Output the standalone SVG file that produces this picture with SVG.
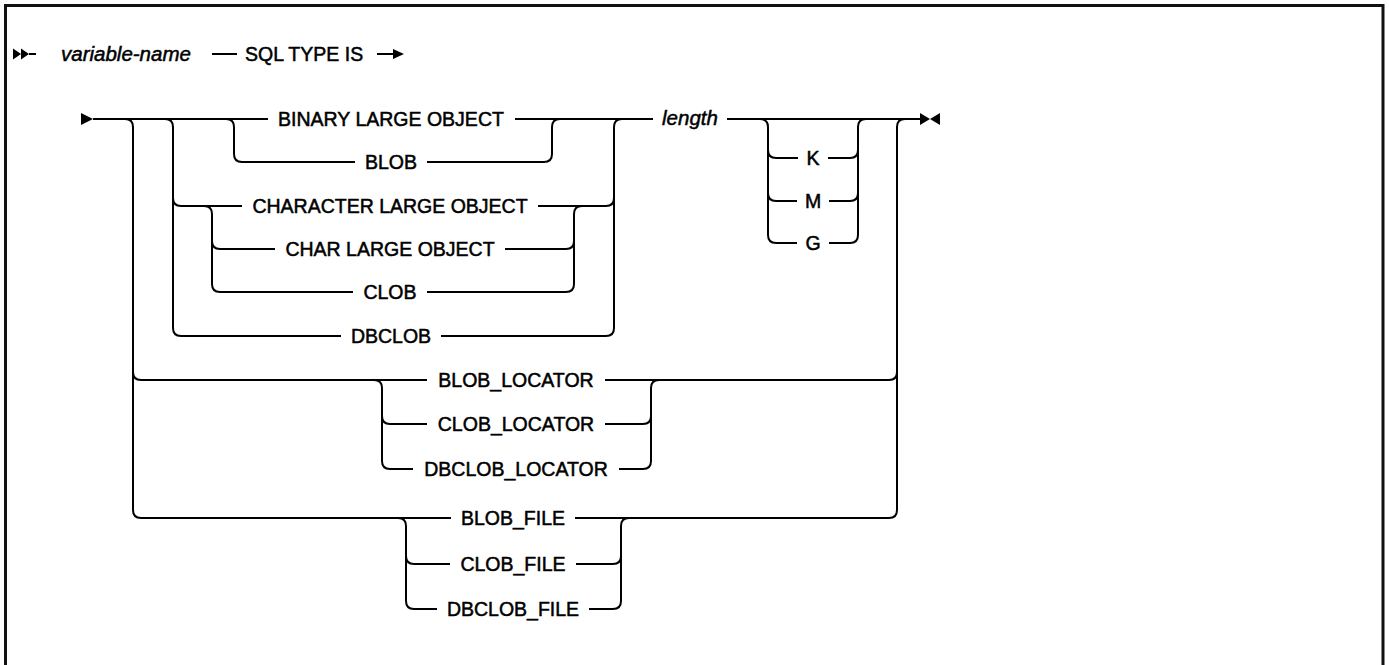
<svg xmlns="http://www.w3.org/2000/svg" width="1389" height="665" viewBox="0 0 1389 665">
<style>
.c{fill:none;stroke:#000;stroke-width:2}
.a{fill:#000;stroke:none}
.t{font-family:"Liberation Sans",Arial,sans-serif;font-size:19.5px;fill:#000;stroke:#000;stroke-width:0.5;text-anchor:middle}
.s{text-anchor:start}
.i{font-style:italic;font-size:20.5px}
</style>
<rect x="5.5" y="5.5" width="1377.5" height="700" fill="#fff" stroke="#111" stroke-width="3"/>
<g id="connectors">
<path class="a" d="M13,48.5 L21,54 L13,59.5 Z M21,48.5 L29,54 L21,59.5 Z"/>
<path class="c" d="M29,54 H36 M212,54 H237 M377,54 H396"/>
<path class="a" d="M393,49 L404,54 L393,59 Z"/>
<path class="a" d="M81,113 L93,119 L81,125 Z"/>
<path class="c" d="M93,119 H268 M515,119 H653 M727,119 H920"/>
<path class="a" d="M920,113 L930,119 L920,125 Z M940,113 L930,119 L940,125 Z"/>
<path class="c" d="M125,119 Q133,119 133,127 V510 Q133,518 141,518 M133,372 Q133,380 141,380"/>
<path class="c" d="M165,119 Q173,119 173,127 V328 Q173,336 181,336 M173,198 Q173,206 181,206"/>
<path class="c" d="M226,119 Q234,119 234,127 V154 Q234,162 242,162"/>
<path class="c" d="M544,162 Q552,162 552,154 V127 Q552,119 560,119"/>
<path class="c" d="M242,162 H355 M427,162 H544"/>
<path class="c" d="M204,206 Q212,206 212,214 V284 Q212,292 220,292 M212,241 Q212,249 220,249"/>
<path class="c" d="M566,292 Q574,292 574,284 V214 Q574,206 582,206 M566,249 Q574,249 574,241"/>
<path class="c" d="M181,206 H242 M538,206 H606 M220,249 H275 M505,249 H566 M220,292 H353 M427,292 H566"/>
<path class="c" d="M181,336 H341 M441,336 H606"/>
<path class="c" d="M606,336 Q614,336 614,328 V127 Q614,119 622,119 M606,206 Q614,206 614,198"/>
<path class="c" d="M760,119 Q768,119 768,127 V235 Q768,243 776,243 M768,150 Q768,158 776,158 M768,193 Q768,201 776,201"/>
<path class="c" d="M850,243 Q858,243 858,235 V127 Q858,119 866,119 M850,158 Q858,158 858,150 M850,201 Q858,201 858,193"/>
<path class="c" d="M776,158 H798 M828,158 H850 M776,201 H797 M829,201 H850 M776,243 H797 M829,243 H850"/>
<path class="c" d="M141,380 H427 M605,380 H889"/>
<path class="c" d="M374,380 Q382,380 382,388 V461 Q382,469 390,469 M382,416 Q382,424 390,424"/>
<path class="c" d="M643,469 Q651,469 651,461 V388 Q651,380 659,380 M643,424 Q651,424 651,416"/>
<path class="c" d="M390,424 H427 M605,424 H643 M390,469 H413 M619,469 H643"/>
<path class="c" d="M141,518 H451 M575,518 H889"/>
<path class="c" d="M398,518 Q406,518 406,526 V601 Q406,609 414,609 M406,556 Q406,564 414,564"/>
<path class="c" d="M613,609 Q621,609 621,601 V526 Q621,518 629,518 M613,564 Q621,564 621,556"/>
<path class="c" d="M414,564 H450 M576,564 H613 M414,609 H437 M589,609 H613"/>
<path class="c" d="M889,518 Q897,518 897,510 V127 Q897,119 905,119 M889,380 Q897,380 897,372"/>
</g>
<g id="n-variable-name"><text class="t s i" x="61" y="61">variable-name</text></g>
<g id="n-sql-type-is"><text class="t s" x="245" y="61">SQL TYPE IS</text></g>
<g id="n-binary-large-object"><text class="t" x="391" y="126">BINARY LARGE OBJECT</text></g>
<g id="n-blob"><text class="t" x="391" y="169">BLOB</text></g>
<g id="n-character-large-object"><text class="t" x="390" y="213">CHARACTER LARGE OBJECT</text></g>
<g id="n-char-large-object"><text class="t" x="390" y="256">CHAR LARGE OBJECT</text></g>
<g id="n-clob"><text class="t" x="390" y="299">CLOB</text></g>
<g id="n-dbclob"><text class="t" x="391" y="343">DBCLOB</text></g>
<g id="n-length"><text class="t i" x="690" y="125">length</text></g>
<g id="n-k"><text class="t" x="813" y="165">K</text></g>
<g id="n-m"><text class="t" x="813" y="208">M</text></g>
<g id="n-g"><text class="t" x="813" y="250">G</text></g>
<g id="n-blob-locator"><text class="t" x="516" y="387">BLOB_LOCATOR</text></g>
<g id="n-clob-locator"><text class="t" x="516" y="431">CLOB_LOCATOR</text></g>
<g id="n-dbclob-locator"><text class="t" x="516" y="476">DBCLOB_LOCATOR</text></g>
<g id="n-blob-file"><text class="t" x="513" y="525">BLOB_FILE</text></g>
<g id="n-clob-file"><text class="t" x="513" y="571">CLOB_FILE</text></g>
<g id="n-dbclob-file"><text class="t" x="513" y="616">DBCLOB_FILE</text></g>
</svg>
